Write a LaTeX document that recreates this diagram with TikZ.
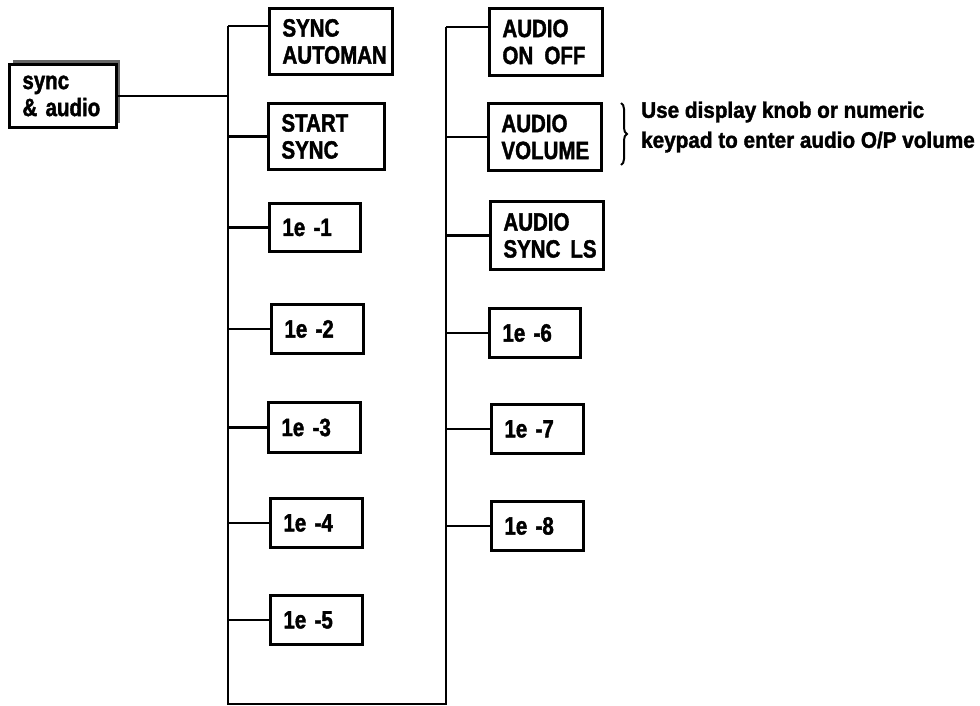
\documentclass[tikz,border=0pt]{standalone}
\usepackage{fontspec}
\setmainfont{Liberation Sans}[FakeStretch=0.82, BoldFeatures={FakeBold=1.6}]
\newfontfamily\notefont{Liberation Sans}[FakeStretch=0.92, BoldFeatures={FakeBold=1.6}]
\usetikzlibrary{shadows,decorations.pathreplacing}
\begin{document}
\begin{tikzpicture}[x=1pt, y=-1pt,
    menu/.style={rectangle, draw, line width=2.9pt, fill=white, anchor=north west, align=left, inner xsep=13pt, inner ysep=0pt, font=\fontsize{25}{27}\selectfont\bfseries},
    link/.style={line width=2.4pt}
]
    \useasboundingbox (0,0) rectangle (980,706);

    % Main key
    \node[menu, text width=81pt, minimum height=63pt, drop shadow={shadow xshift=4pt, shadow yshift=4pt, fill=black!60, opacity=1}] (syncaudio) at (8,63) {sync\\\& audio};

    % Spines
    \coordinate (ltop) at (228,26);
    \coordinate (lbot) at (228,704);
    \coordinate (rbot) at (446,704);
    \coordinate (rtop) at (446,27);
    \draw[link] (ltop) -- (lbot) -- (rbot) -- (rtop);
    \draw[link] (syncaudio.east) -- (syncaudio.east -| ltop);

    % Left column
    \foreach \name/\x/\y/\w/\h/\label in {la/268/7/123/66/{SYNC\\AUTOMAN}, lb/267/102/116/66/{START\\SYNC}, lc/268/202/91/48/{1e -1}, ld/270/303/92/49/{1e -2}, le/267/401/92/50/{1e -3}, lf/269/497/92/49/{1e -4}, lg/269/594/92/49/{1e -5}} {
        \pgfmathsetmacro\tw{\w-26}
        \node[menu, text width=\tw pt, minimum height=\h pt] (\name) at (\x,\y) {\label};
    }
    \draw[link] (ltop) -- (ltop -| la.west);
    \foreach \b in {lb,lc,ld,le,lf,lg}
        \draw[link] (\b.west -| ltop) -- (\b.west);

    % Right column
    \foreach \name/\x/\y/\w/\h/\label in {ra/488/7/113/67/{AUDIO\\ON\kern0.45em OFF}, rb/487/102/113/67/{AUDIO\\VOLUME}, rc/489/200/113/68/{AUDIO\\SYNC\kern0.4em LS}, rd/488/307/91/49/{1e -6}, re/490/403/92/49/{1e -7}, rf/490/500/92/49/{1e -8}} {
        \pgfmathsetmacro\tw{\w-26}
        \node[menu, text width=\tw pt, minimum height=\h pt] (\name) at (\x,\y) {\label};
    }
    \draw[link] (rtop) -- (rtop -| ra.west);
    \foreach \b in {rb,rc,rd,re,rf}
        \draw[link] (\b.west -| rtop) -- (\b.west);

    % Note on volume
    \coordinate (bracetop) at (621,103);
    \coordinate (bracebot) at (621,165);
    \draw[line width=2pt, decorate, decoration={brace, amplitude=6pt}] (bracetop) -- (bracebot);
    \node[anchor=west, align=left, inner sep=0pt, font=\notefont\fontsize{22.5}{30}\selectfont\bfseries] (volnote) at (641,127) {Use display knob or numeric\\keypad to enter audio O/P volume};
\end{tikzpicture}
\end{document}
